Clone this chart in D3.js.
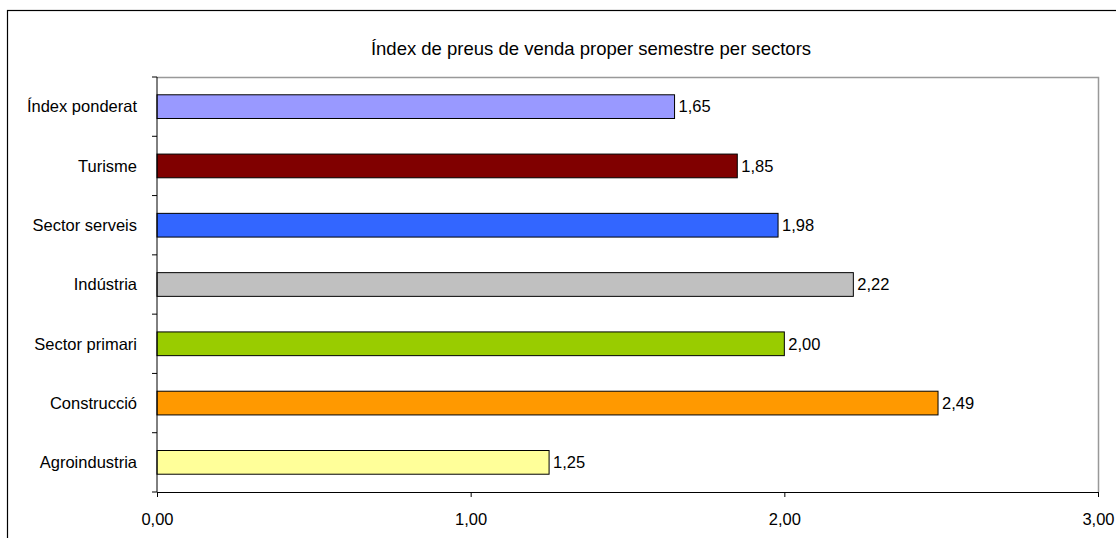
<!DOCTYPE html>
<html>
<head>
<meta charset="utf-8">
<script src="https://cdn.jsdelivr.net/npm/d3@7"></script>
<style>
  body { margin: 0; background: #fff; }
  text { font-family: "Liberation Sans", Arial, sans-serif; }
</style>
</head>
<body>
<div id="chart"></div>
<script>
const categories = ['Índex ponderat', 'Turisme', 'Sector serveis', 'Indústria', 'Sector primari', 'Construcció', 'Agroindustria']
const values = [1.65, 1.85, 1.98, 2.22, 2.00, 2.49, 1.25]
const colors = ['#9999FF', '#800000', '#3366FF', '#C0C0C0', '#99CC00', '#FF9900', '#FFFF99']
const xTicks = [0, 1, 2, 3]
const title = 'Índex de preus de venda proper semestre per sectors'

const params = {
  width: 1116,
  height: 538,
  marginTop: 77,
  marginBottom: 46,
  marginLeft: 157,
  marginRight: 18,
}

const fmt = v => d3.format('.2f')(v).replace('.', ',')

const svg = d3.select('#chart')
  .append('svg')
  .attr('width', params.width)
  .attr('height', params.height)

// outer chart frame
svg.append('rect')
  .attr('x', 7.5)
  .attr('y', 10.5)
  .attr('width', params.width + 10)
  .attr('height', params.height + 10)
  .attr('fill', 'none')
  .attr('stroke', '#000')
  .attr('stroke-width', 1.2)

const x = d3.scaleLinear()
  .domain([0, 3])
  .range([params.marginLeft, params.width - params.marginRight])

const y = d3.scaleBand()
  .domain(categories)
  .range([params.marginTop, params.height - params.marginBottom])
  .paddingInner(0.6)
  .paddingOuter(0.3)

const bottom = params.height - params.marginBottom

// plot area border (gray top/right)
svg.append('path')
  .attr('d', `M${x(0)},${params.marginTop + 0.5}H${x(3) + 0.5}V${bottom}`)
  .attr('fill', 'none')
  .attr('stroke', '#999')
  .attr('stroke-width', 1.5)

svg.append('text')
  .attr('x', 591)
  .attr('y', 55)
  .attr('text-anchor', 'middle')
  .attr('font-size', 18.5)
  .attr('fill', '#000')
  .text(title)

// bars
svg.selectAll('rect.bar')
  .data(categories)
  .enter()
  .append('rect')
  .attr('class', 'bar')
  .attr('x', x(0))
  .attr('y', d => y(d))
  .attr('width', (d, i) => x(values[i]) - x(0))
  .attr('height', y.bandwidth())
  .attr('fill', (d, i) => colors[i])
  .attr('stroke', '#000')
  .attr('stroke-width', 1)

// value labels
svg.selectAll('text.val')
  .data(categories)
  .enter()
  .append('text')
  .attr('class', 'val')
  .attr('x', (d, i) => x(values[i]) + 4)
  .attr('y', d => y(d) + y.bandwidth() / 2)
  .attr('dy', '0.35em')
  .attr('font-size', 16.5)
  .text((d, i) => fmt(values[i]))

// x axis
const xAxis = svg.append('g')
  .attr('transform', `translate(0,${bottom})`)
  .call(d3.axisBottom(x).tickValues(xTicks).tickFormat(fmt).tickSize(5).tickSizeOuter(0))
xAxis.select('.domain').attr('stroke', '#000')
xAxis.selectAll('.tick line').attr('stroke', '#000')
xAxis.selectAll('.tick text')
  .attr('font-size', 16.5)
  .attr('font-family', '"Liberation Sans", Arial, sans-serif')
  .attr('fill', '#000')
  .attr('y', 33)
  .attr('dy', 0)

// y axis: line, ticks between categories, labels
const yAxis = svg.append('g')
svg.append('line')
  .attr('x1', x(0)).attr('x2', x(0))
  .attr('y1', params.marginTop).attr('y2', bottom)
  .attr('stroke', '#000')

const bounds = d3.range(categories.length + 1).map(i => params.marginTop + i * (bottom - params.marginTop) / categories.length)
yAxis.selectAll('line')
  .data(bounds)
  .enter()
  .append('line')
  .attr('x1', x(0) - 5).attr('x2', x(0))
  .attr('y1', d => d).attr('y2', d => d)
  .attr('stroke', '#000')

yAxis.selectAll('text')
  .data(categories)
  .enter()
  .append('text')
  .attr('x', x(0) - 20)
  .attr('y', d => y(d) + y.bandwidth() / 2)
  .attr('dy', '0.35em')
  .attr('text-anchor', 'end')
  .attr('font-size', 16.5)
  .text(d => d)
</script>
</body>
</html>
